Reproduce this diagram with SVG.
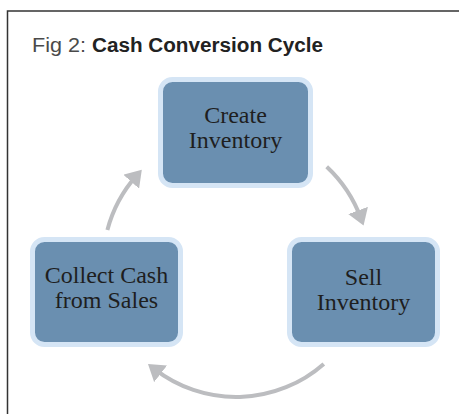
<svg xmlns="http://www.w3.org/2000/svg" width="459" height="414" viewBox="0 0 459 414">
  <defs>
    <style>
      .box { fill: #6a8fb0; stroke: #d5e5f5; stroke-width: 5; }
      .lbl { font-family: "Liberation Serif", "Times New Roman", serif; font-size: 24px; fill: #1e1e1e; text-anchor: middle; }
      .arc { fill: none; stroke: #bcbdc0; stroke-width: 4; marker-end: url(#head); }
    </style>
    <marker id="head" markerUnits="userSpaceOnUse" markerWidth="16" markerHeight="21" viewBox="0 0 16 21" refX="8" refY="10.5" orient="auto">
      <path d="M0,0 L16,10.5 L0,21 z" fill="#bcbdc0"/>
    </marker>
  </defs>
  <rect width="459" height="414" fill="#ffffff"/>
  <path d="M7.5,415 V11 H460" fill="none" stroke="#333333" stroke-width="1.5"/>
  <text x="32" y="52" font-family="'Liberation Sans', Arial, sans-serif" font-size="20" fill="#4a4a4a"><tspan textLength="54" lengthAdjust="spacingAndGlyphs">Fig 2:</tspan><tspan x="92" font-weight="bold" fill="#222222" textLength="231" lengthAdjust="spacingAndGlyphs">Cash Conversion Cycle</tspan></text>

  <g id="connectors">
    <path class="arc" d="M326.7,166.7 A133,133 0 0 1 360.8,218.0"/>
    <path class="arc" d="M323.8,363.9 A133,133 0 0 1 154.3,368.9"/>
    <path class="arc" d="M107.4,230 A133,133 0 0 1 136.5,175.7"/>
  </g>

  <g id="create-inventory">
    <rect class="box" x="160.5" y="79.5" width="150" height="106" rx="12"/>
    <text class="lbl" x="235.5" y="123">Create</text>
    <text class="lbl" x="235.5" y="148">Inventory</text>
  </g>
  <g id="sell-inventory">
    <rect class="box" x="289.5" y="239.5" width="148" height="105" rx="12"/>
    <text class="lbl" x="363.5" y="285">Sell</text>
    <text class="lbl" x="363.5" y="310">Inventory</text>
  </g>
  <g id="collect-cash">
    <rect class="box" x="32.5" y="239.5" width="148" height="105" rx="12"/>
    <text class="lbl" x="106.5" y="283">Collect Cash</text>
    <text class="lbl" x="106.5" y="308">from Sales</text>
  </g>
</svg>
